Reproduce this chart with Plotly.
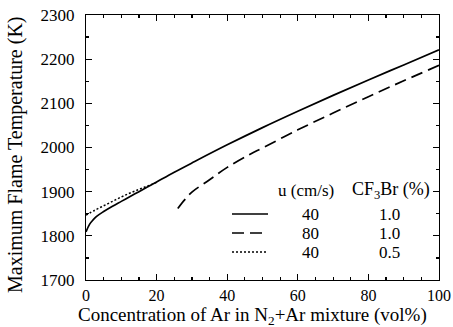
import plotly.graph_objects as go

# Data
x_solid = [0, 1, 2, 3, 5, 7.5, 10, 12.5, 15, 17.5, 20, 25, 30, 40, 50, 60, 70, 80, 90, 100]
t_solid = [1809, 1826, 1836, 1844, 1855, 1867, 1878, 1889, 1900, 1911, 1922, 1944, 1965, 2006, 2045, 2082, 2118, 2153, 2187, 2221]

x_dash = [26, 28, 30, 35, 40, 46.5, 50, 60, 70, 80, 90, 100]
t_dash = [1862, 1882, 1899, 1927, 1955, 1985, 1999, 2040, 2078, 2115, 2151, 2186]

x_dot = [0, 2.5, 5, 7.5, 10, 12.5, 15, 17.5, 20]
t_dot = [1847, 1858, 1868, 1878, 1888, 1897, 1905, 1913, 1921]

legend_u = ["40", "80", "40"]
legend_cf3br = ["1.0", "1.0", "0.5"]
legend_dash = ["solid", "12px,6px", "2px,2px"]

FONT = "Liberation Serif"
# plot area in page pixels
L, R, T, B = 86, 439, 15, 280
W, H = 453, 327

fig = go.Figure()
fig.add_trace(go.Scatter(x=x_solid, y=t_solid, mode="lines", line=dict(color="black", width=1.7, shape="spline"), showlegend=False, hoverinfo="skip"))
fig.add_trace(go.Scatter(x=x_dash, y=t_dash, mode="lines", line=dict(color="black", width=1.7, dash="12px,6px", shape="spline"), showlegend=False, hoverinfo="skip"))
fig.add_trace(go.Scatter(x=x_dot, y=t_dot, mode="lines", line=dict(color="black", width=1.5, dash="2px,2px", shape="spline"), showlegend=False, hoverinfo="skip"))

def px2paper(px, py):
    return (px - L) / (R - L), (B - py) / (B - T)

# legend header
for txt, cx, fs in [("u (cm/s)", 306, 17), ("CF<sub>3</sub>Br (%)", 391, 18)]:
    xp, yp = px2paper(cx, 190)
    fig.add_annotation(x=xp, y=yp, xref="paper", yref="paper", text=txt, showarrow=False,
                       font=dict(family=FONT, size=fs, color="black"), xanchor="center", yanchor="middle")

rows_py = [214, 233, 252]
for i, py in enumerate(rows_py):
    x0, y0 = px2paper(232, py)
    x1, _ = px2paper(268, py)
    fig.add_shape(type="line", xref="paper", yref="paper", x0=x0, x1=x1, y0=y0, y1=y0,
                  line=dict(color="black", width=1.5, dash=legend_dash[i]))
    xa, _ = px2paper(310, py)
    fig.add_annotation(x=xa, y=y0, xref="paper", yref="paper", text=legend_u[i], showarrow=False,
                       font=dict(family=FONT, size=17, color="black"), xanchor="center", yanchor="middle")
    xb, _ = px2paper(389, py)
    fig.add_annotation(x=xb, y=y0, xref="paper", yref="paper", text=legend_cf3br[i], showarrow=False,
                       font=dict(family=FONT, size=17, color="black"), xanchor="center", yanchor="middle")

# axis titles as annotations for precise placement
xt, yt = px2paper(252, 316)
fig.add_annotation(x=xt, y=yt, xref="paper", yref="paper",
                   text="Concentration of Ar in N<sub>2</sub>+Ar mixture (vol%)", showarrow=False,
                   font=dict(family=FONT, size=19, color="black"), xanchor="center", yanchor="middle")
xt2, yt2 = px2paper(15, 155)
fig.add_annotation(x=xt2, y=yt2, xref="paper", yref="paper", textangle=-90,
                   text="Maximum Flame Temperature (K)", showarrow=False,
                   font=dict(family=FONT, size=20, color="black"), xanchor="center", yanchor="middle")

axis_common = dict(showline=True, linecolor="black", linewidth=1.2, mirror="allticks",
                   ticks="inside", ticklen=6, tickwidth=1.2, tickcolor="black",
                   showgrid=False, zeroline=False, automargin=False)

fig.update_xaxes(range=[0, 100], tickmode="linear", tick0=0, dtick=20,
                 minor=dict(ticks="inside", ticklen=3, tickcolor="black", dtick=5, tick0=0, showgrid=False),
                 ticklabelstandoff=1, tickfont=dict(family=FONT, size=16, color="black"),
                 **axis_common)
fig.update_yaxes(range=[1700, 2300], tickmode="linear", tick0=1700, dtick=100,
                 minor=dict(ticks="inside", ticklen=3, tickcolor="black", dtick=50, tick0=1700, showgrid=False),
                 ticklabelstandoff=7, tickfont=dict(family=FONT, size=17, color="black"),
                 **axis_common)

fig.update_layout(width=W, height=H,
                  margin=dict(l=L, r=W - R, t=T, b=H - B),
                  paper_bgcolor="white", plot_bgcolor="white", showlegend=False)

fig.write_html("out.html", config={"displayModeBar": False, "staticPlot": True},
               post_script="document.body.style.margin='0';document.body.style.overflow='hidden';")
